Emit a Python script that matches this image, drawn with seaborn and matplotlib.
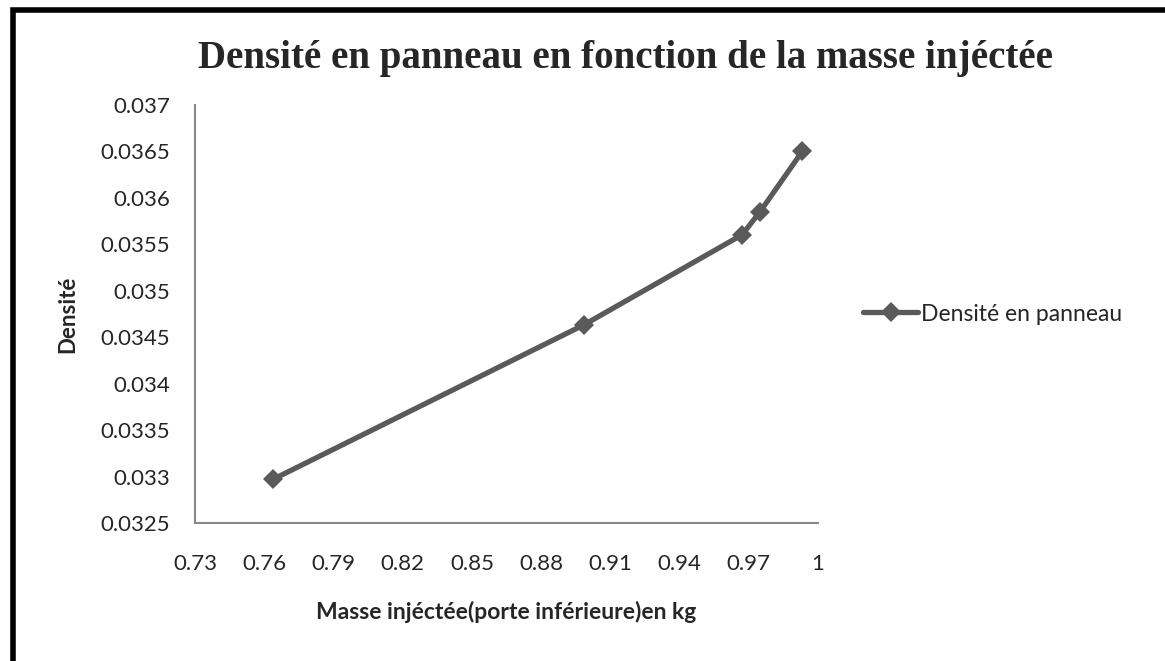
import pandas as pd
import seaborn as sns
import matplotlib.pyplot as plt
from matplotlib.patches import Rectangle

# Data
masse = [0.7638, 0.8986, 0.9671, 0.9749, 0.9932]
densite = [0.03297, 0.034634, 0.035603, 0.035851, 0.0365]
x_ticks = [0.73, 0.76, 0.79, 0.82, 0.85, 0.88, 0.91, 0.94, 0.97, 1.0]
x_labels = ["0.73", "0.76", "0.79", "0.82", "0.85", "0.88", "0.91", "0.94", "0.97", "1"]
y_ticks = [0.0325, 0.033, 0.0335, 0.034, 0.0345, 0.035, 0.0355, 0.036, 0.0365, 0.037]
y_labels = ["0.0325", "0.033", "0.0335", "0.034", "0.0345", "0.035", "0.0355", "0.036", "0.0365", "0.037"]
serie = "Densité en panneau"

df = pd.DataFrame({"masse": masse, "densite": densite, "serie": serie})

sns.set_style("white")
plt.rcParams['font.family'] = ['Lato', 'DejaVu Sans']

fig = plt.figure(figsize=(11.65, 6.61), dpi=100)
ax = fig.add_axes([0.1674, 0.2088, 0.7021 - 0.1674, 0.8411 - 0.2088])

sns.lineplot(data=df, x="masse", y="densite", hue="serie", palette=["#5a5a5a"],
             marker="D", markersize=10, markeredgewidth=0, linewidth=3.8,
             sort=False, ax=ax)

ax.set_xlim(0.73, 1.0)
ax.set_ylim(0.0325, 0.037)
ax.set_xticks(x_ticks)
ax.set_xticklabels(x_labels, fontsize=16)
ax.set_yticks(y_ticks)
ax.set_yticklabels(y_labels, fontsize=16)
ax.tick_params(axis="x", length=0, pad=22)
ax.tick_params(axis="y", length=0, pad=18)

for s in ["top", "right"]:
    ax.spines[s].set_visible(False)
for s in ["left", "bottom"]:
    ax.spines[s].set_color("#888888")
    ax.spines[s].set_linewidth(1.5)

ax.set_xlabel("Masse injéctée(porte inférieure)en kg", fontsize=16.5, fontweight="bold", labelpad=20)
ax.set_ylabel("Densité", fontsize=16, fontweight="bold", labelpad=16)

fig.text(0.537, 0.912, "Densité en panneau en fonction de la masse injéctée",
         ha="center", va="center", fontsize=28, fontweight="bold", family="Liberation Serif")

leg = ax.legend(loc="center left", bbox_to_anchor=(1.04, 0.5), frameon=False,
                fontsize=16.5, handlelength=2.4, handletextpad=0.1)
for h in leg.legend_handles:
    h.set_linewidth(3.8)

# outer frame
fig.patches.append(Rectangle((0.011, -0.01), 0.99, 0.995, transform=fig.transFigure,
                             fill=False, edgecolor="black", linewidth=4))

fig.savefig("out.png", dpi=100)
